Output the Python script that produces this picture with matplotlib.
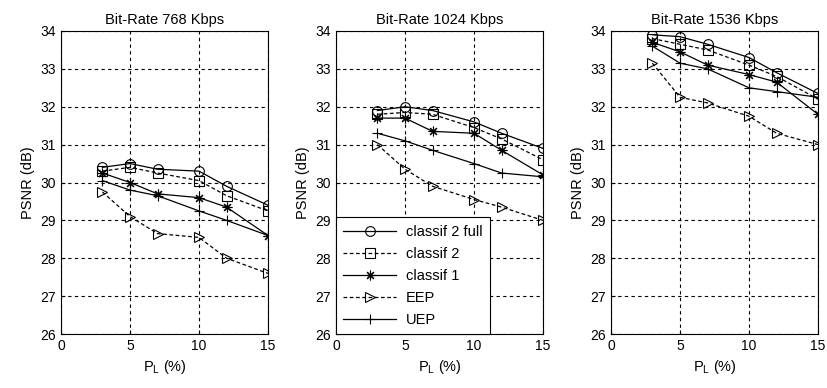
import numpy as np
import matplotlib.pyplot as plt

plt.rcParams['font.family'] = ['Liberation Sans', 'DejaVu Sans']

pl = [3, 5, 7, 10, 12, 15]
titles = ['Bit-Rate 768 Kbps', 'Bit-Rate 1024 Kbps', 'Bit-Rate 1536 Kbps']
labels = ['classif 2 full', 'classif 2', 'classif 1', 'EEP', 'UEP']

# PSNR (dB) per bit-rate, series order as in labels
psnr_768 = [
    [30.4, 30.5, 30.35, 30.3, 29.9, 29.4],
    [30.3, 30.4, 30.25, 30.05, 29.65, 29.25],
    [30.25, 30.0, 29.7, 29.6, 29.35, 28.6],
    [29.75, 29.1, 28.65, 28.55, 28.0, 27.6],
    [30.05, 29.8, 29.65, 29.25, 29.0, 28.6],
]
psnr_1024 = [
    [31.9, 32.0, 31.9, 31.6, 31.3, 30.9],
    [31.8, 31.85, 31.8, 31.45, 31.15, 30.6],
    [31.7, 31.7, 31.35, 31.3, 30.85, 30.2],
    [31.0, 30.35, 29.9, 29.55, 29.35, 29.0],
    [31.3, 31.1, 30.85, 30.5, 30.25, 30.15],
]
psnr_1536 = [
    [33.9, 33.85, 33.65, 33.3, 32.9, 32.35],
    [33.8, 33.65, 33.5, 33.1, 32.8, 32.2],
    [33.7, 33.45, 33.1, 32.85, 32.65, 31.8],
    [33.15, 32.25, 32.1, 31.75, 31.3, 31.0],
    [33.6, 33.15, 33.0, 32.5, 32.4, 32.25],
]
all_data = [psnr_768, psnr_1024, psnr_1536]

# matlab-like markers: o, s, *, >, +
styles = [('o', '-'), ('s', '--'), ((8, 2, 0), '-'), ('>', '--'), ('+', '-')]

fig = plt.figure(figsize=(8.27, 3.88), dpi=100)
lefts = [61 / 827, 336 / 827, 611 / 827]
for i in range(3):
    ax = fig.add_axes([lefts[i], 54 / 388, 207 / 827, 303 / 388])
    for lab, ys, (m, ls) in zip(labels, all_data[i], styles):
        ax.plot(pl, ys, color='black', linestyle=ls, marker=m, markersize=7,
                markerfacecolor='none', markeredgecolor='black',
                linewidth=0.9, markeredgewidth=0.8, label=lab,
                dashes=(3, 2) if ls == '--' else (None, None))
    ax.set_xlim(0, 15)
    ax.set_ylim(26, 34)
    ax.set_xticks([0, 5, 10, 15])
    ax.set_yticks(range(26, 35))
    ax.grid(True, color='black', linestyle=(0, (3, 3)), linewidth=0.8)
    ax.tick_params(direction='in', labelsize=10, length=3)
    for s in ax.spines.values():
        s.set_linewidth(0.8)
    ax.set_title(titles[i], fontsize=10.5, pad=5)
    ax.set_xlabel('P$_\\mathregular{L}$ (%)', fontsize=10.5)
    ax.set_ylabel('PSNR (dB)', fontsize=10.5, labelpad=4)
    if i == 1:
        leg = ax.legend(loc='lower left', fontsize=10.5, handlelength=3.6,
                        fancybox=False, framealpha=1, borderaxespad=0,
                        edgecolor='black', labelspacing=0.55,
                        borderpad=0.5, handletextpad=0.7)
        leg.get_frame().set_linewidth(0.8)

fig.savefig('out.png', dpi=100)
